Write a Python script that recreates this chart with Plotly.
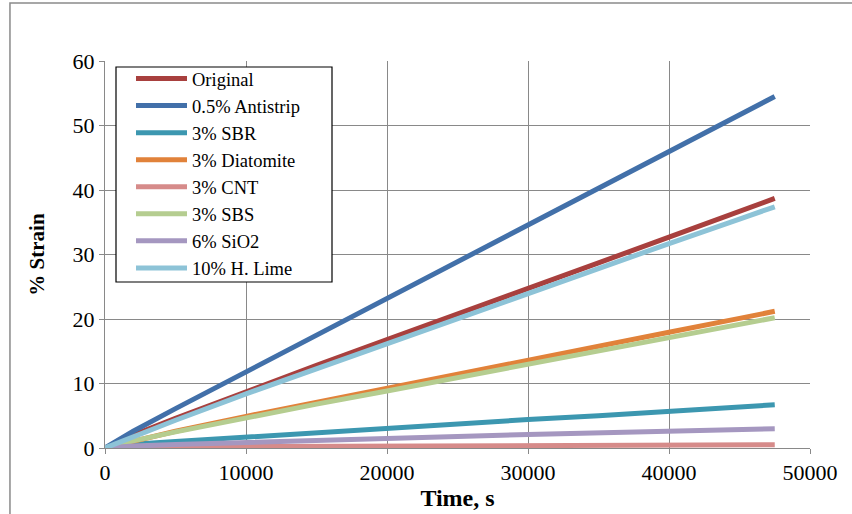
import plotly.graph_objects as go

time_s = [0, 2000, 5000, 10000, 15000, 20000, 25000, 30000, 35000, 40000, 45000, 47500]

original = [0, 2.0, 4.6, 8.8, 12.8, 16.8, 20.7, 24.7, 28.7, 32.7, 36.7, 38.7]
antistrip = [0, 2.6, 6.1, 11.8, 17.6, 23.2, 29.0, 34.7, 40.4, 46.1, 51.8, 54.5]
sbr = [0, 0.6, 1.0, 1.7, 2.4, 3.0, 3.7, 4.4, 5.0, 5.7, 6.4, 6.7]
diatomite = [0, 1.1, 2.6, 4.9, 7.1, 9.25, 11.4, 13.6, 15.8, 17.95, 20.1, 21.2]
cnt = [0, 0.1, 0.15, 0.22, 0.28, 0.32, 0.36, 0.4, 0.43, 0.46, 0.49, 0.5]
sbs = [0, 1.1, 2.5, 4.7, 6.8, 8.85, 10.9, 12.95, 15.0, 17.1, 19.15, 20.2]
sio2 = [0, 0.3, 0.55, 0.9, 1.2, 1.5, 1.8, 2.1, 2.4, 2.65, 2.9, 3.0]
h_lime = [0, 1.8, 4.3, 8.4, 12.3, 16.2, 20.1, 24.0, 27.8, 31.7, 35.5, 37.4]

series_names = ["Original", "0.5% Antistrip", "3% SBR", "3% Diatomite",
                "3% CNT", "3% SBS", "6% SiO2", "10% H. Lime"]
series_values = [original, antistrip, sbr, diatomite, cnt, sbs, sio2, h_lime]
series_colors = ["#A8403E", "#4270A9", "#3C97B0", "#E1823A",
                 "#D68B8A", "#B5CD90", "#A597C0", "#8DC3D7"]

x_ticks = [0, 10000, 20000, 30000, 40000, 50000]
y_ticks = [0, 10, 20, 30, 40, 50, 60]

fig = go.Figure()
for name, vals, col in zip(series_names, series_values, series_colors):
    fig.add_trace(go.Scatter(x=time_s, y=vals, mode="lines", name=name,
                             line=dict(color=col, width=5)))

font_family = "Liberation Serif"
grid_col = "#898989"

# plot area: x 105..810 px, y 61..448 px
fig.update_layout(
    width=852, height=514,
    margin=dict(l=105, r=42, t=61, b=66),
    paper_bgcolor="white", plot_bgcolor="white",
    font=dict(family=font_family, size=22, color="black"),
    showlegend=True,
    legend=dict(x=(131 - 105) / 705, y=(448 - 60) / 387,
                xanchor="left", yanchor="top",
                bgcolor="rgba(0,0,0,0)", borderwidth=0,
                font=dict(family=font_family, size=18.5, color="black"),
                tracegroupgap=0, itemwidth=51),
    xaxis=dict(range=[0, 50000], tickmode="array", tickvals=x_ticks,
               ticktext=[str(v) for v in x_ticks],
               tickfont=dict(family=font_family, size=22),
               showgrid=True, gridcolor=grid_col, gridwidth=1,
               showline=True, linecolor=grid_col, linewidth=1,
               ticks="outside", ticklen=5, tickcolor=grid_col,
               zeroline=False, automargin=False,
               title=dict(text="<b>Time, s</b>", standoff=4,
                          font=dict(family=font_family, size=24))),
    yaxis=dict(range=[0, 60], tickmode="array", tickvals=y_ticks,
               tickfont=dict(family=font_family, size=22),
               showgrid=True, gridcolor=grid_col, gridwidth=1,
               showline=True, linecolor=grid_col, linewidth=1,
               ticks="outside", ticklen=5, tickcolor=grid_col,
               zeroline=False, automargin=False,
               title=dict(text="<b>% Strain</b>", standoff=22,
                          font=dict(family=font_family, size=21))),
    shapes=[
        dict(type="rect", xref="paper", yref="paper",
             x0=-0.1348, x1=1.2, y0=-0.3, y1=1.1499,
             line=dict(color="#8a8a8a", width=1.5), layer="below"),
        dict(type="rect", xref="paper", yref="paper",
             x0=(116 - 105) / 705, x1=(332 - 105) / 705,
             y0=(448 - 282) / 387, y1=(448 - 67) / 387,
             fillcolor="white", line=dict(color="black", width=1.2),
             layer="above"),
    ],
)

fig.write_html("out.html")
